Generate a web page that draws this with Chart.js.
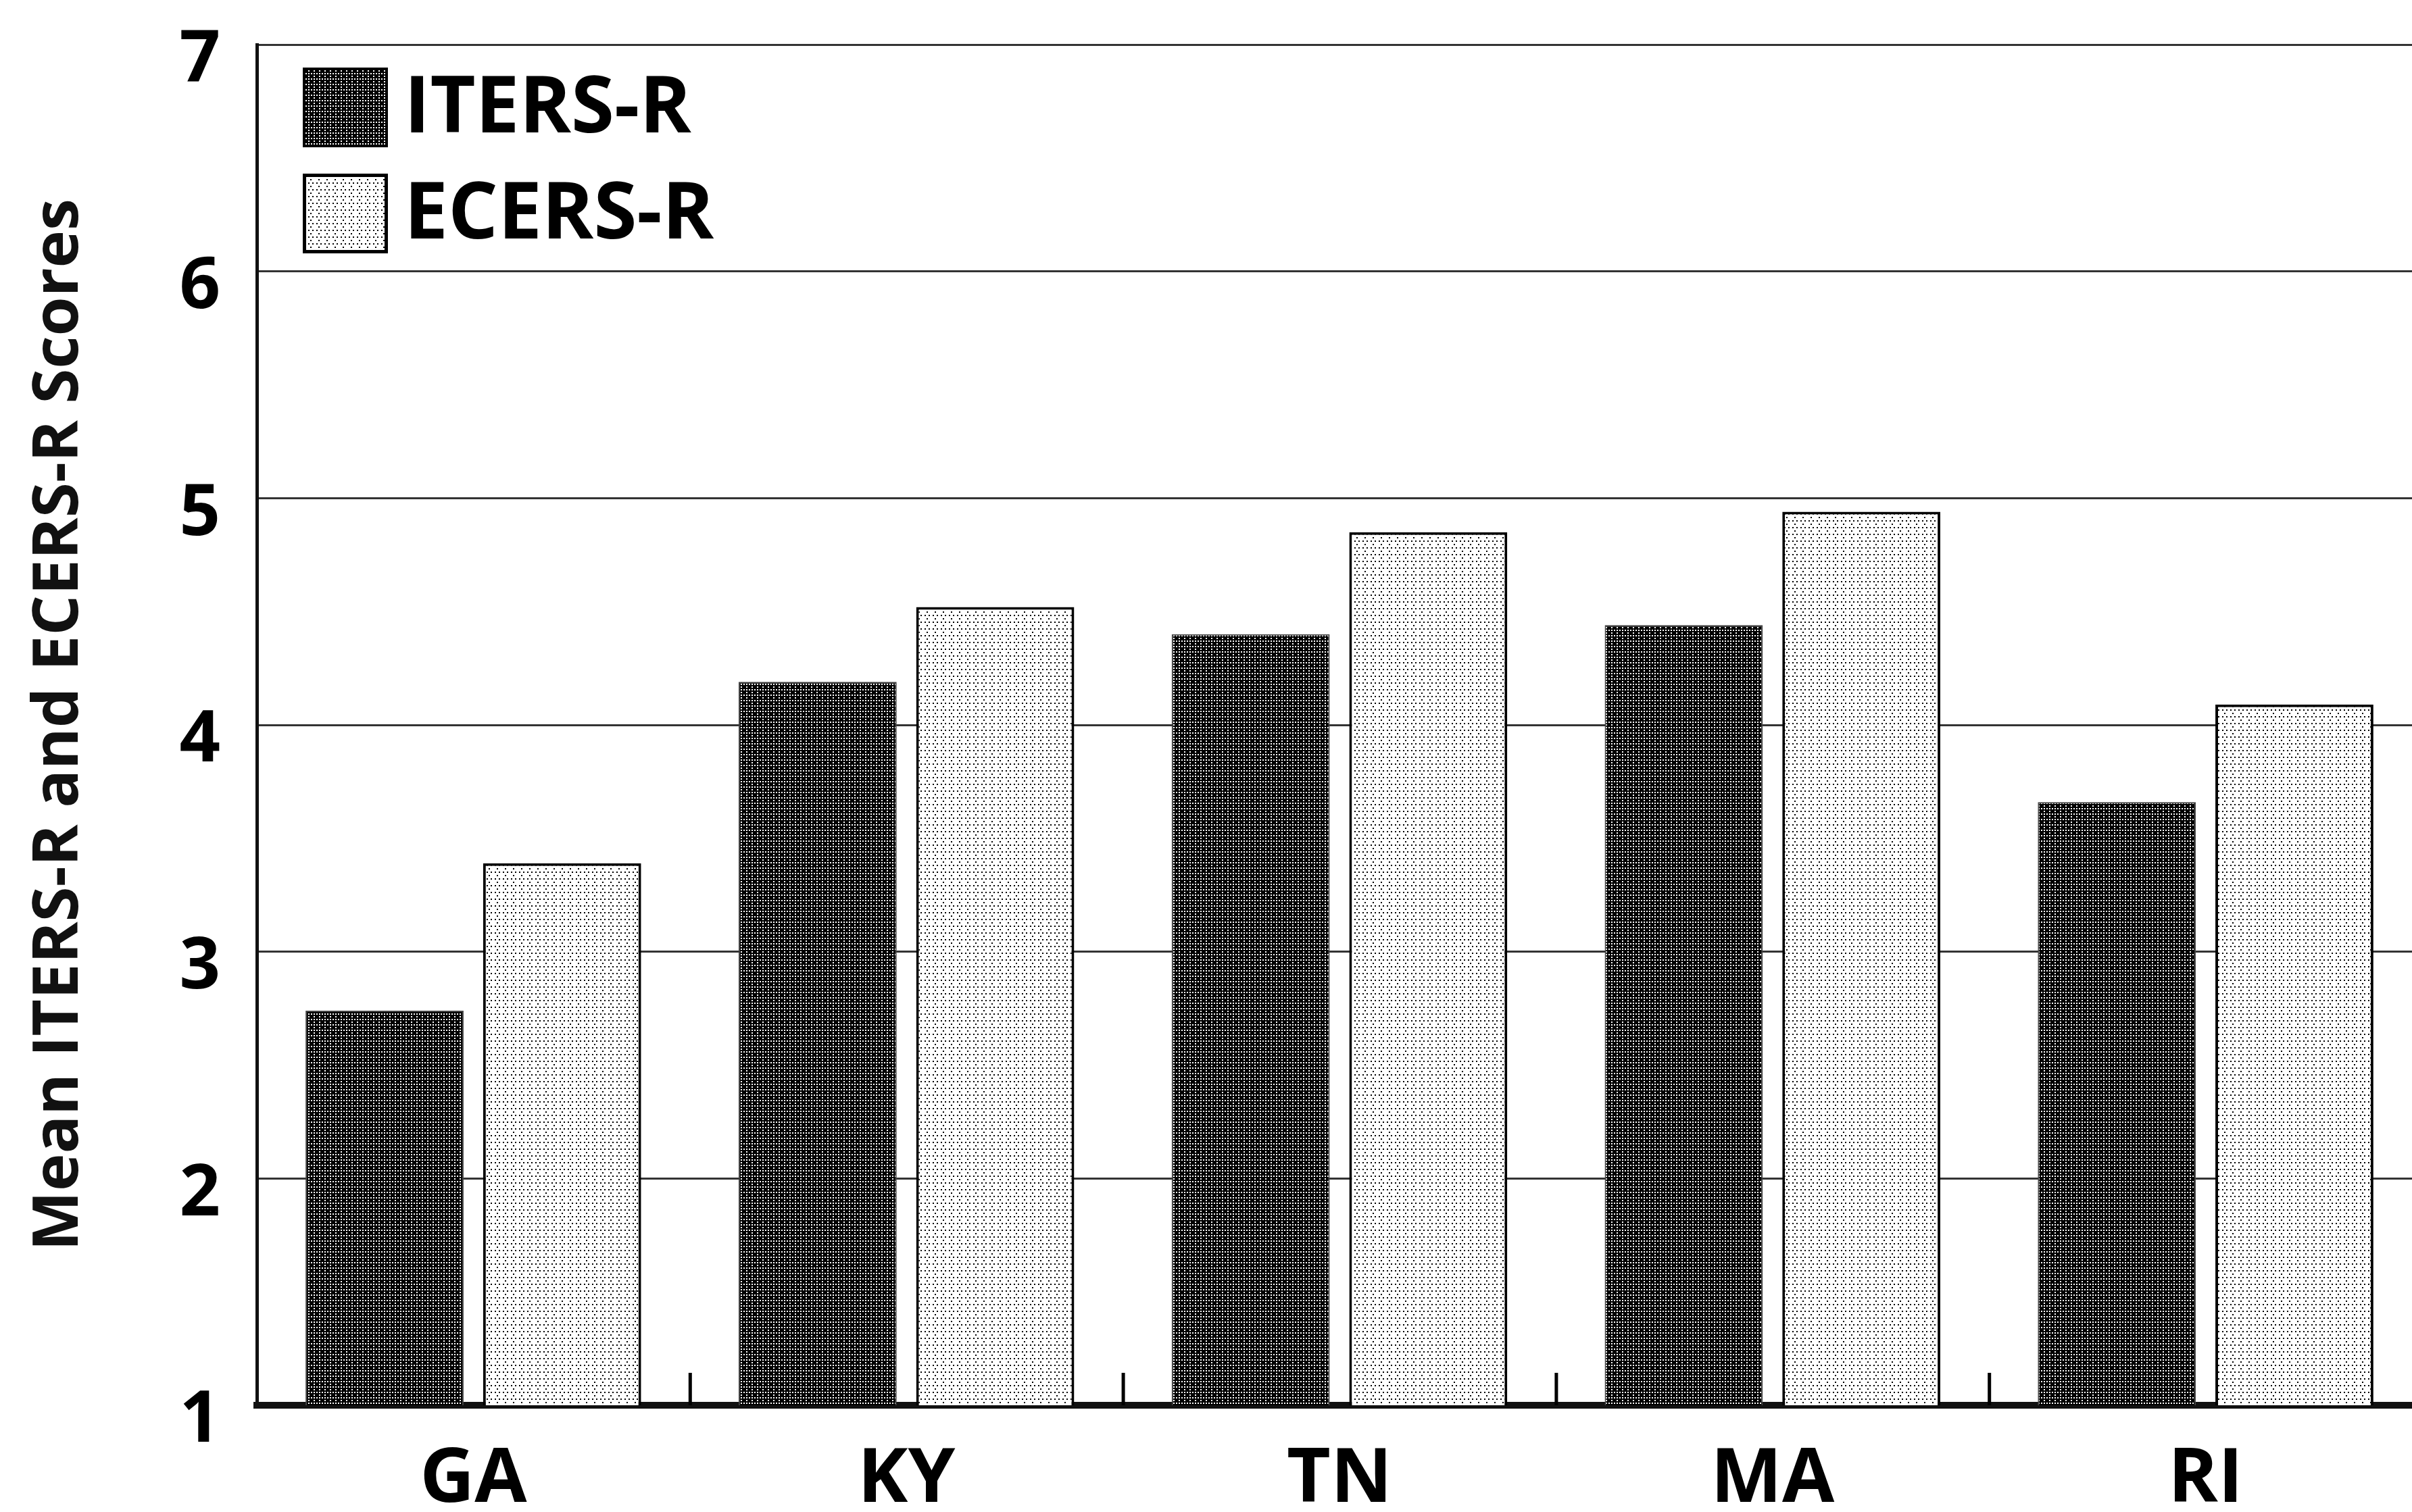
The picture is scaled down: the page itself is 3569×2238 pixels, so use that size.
<!DOCTYPE html>
<html>
<head>
<meta charset="utf-8">
<script src="https://cdn.jsdelivr.net/npm/chart.js@4/dist/chart.umd.min.js"></script>
<style>
html,body{margin:0;padding:0;background:#fff;overflow:hidden;}
#wrap{width:3569px;height:2238px;overflow:hidden;position:relative;}
</style>
</head>
<body>
<div id="wrap"><canvas id="c" width="3584" height="2238"></canvas></div>
<script>
const categories = ["GA", "KY", "TN", "MA", "RI"];
const itersR = [2.74, 4.19, 4.40, 4.44, 3.66];
const ecersR = [3.39, 4.52, 4.85, 4.94, 4.09];
const seriesNames = ["ITERS-R", "ECERS-R"];
const yTicks = [1, 2, 3, 4, 5, 6, 7];
const yTitle = "Mean ITERS-R and ECERS-R Scores";

function makePattern(w, h, bg, fg, dots, size) {
  const c = document.createElement('canvas');
  c.width = w; c.height = h;
  const x = c.getContext('2d');
  x.fillStyle = bg; x.fillRect(0, 0, w, h);
  x.fillStyle = fg;
  dots.forEach(d => x.fillRect(d[0], d[1], size, size));
  return document.getElementById('c').getContext('2d').createPattern(c, 'repeat');
}
const darkFill = makePattern(8, 8, '#000', '#fff', [[0,0],[4,4],[0,4]], 2);
const lightFill = makePattern(12, 10, '#fff', '#000', [[0,0],[6,0],[3,5]], 2);

const FONT = "'Open Sans', 'DejaVu Sans', sans-serif";

const catTicks = {
  id: 'catTicks',
  afterDatasetsDraw(chart) {
    const xs = chart.scales.x, ys = chart.scales.y, ctx = chart.ctx;
    const base = ys.getPixelForValue(yTicks[0]);
    ctx.save();
    ctx.fillStyle = '#000';
    for (let i = 1; i < categories.length; i++) {
      const px = (xs.getPixelForValue(i - 1) + xs.getPixelForValue(i)) / 2;
      ctx.fillRect(px - 2, base - 48, 5, 48);
    }
    ctx.restore();
  }
};

const boxLegend = {
  id: 'boxLegend',
  afterDatasetsDraw(chart) {
    const ctx = chart.ctx, area = chart.chartArea;
    const bx = area.left + 68, by = area.top + 34, bw = 126, bh = 118, pitch = 157;
    ctx.save();
    chart.data.datasets.forEach((ds, i) => {
      const top = by + i * pitch;
      ctx.fillStyle = ds.backgroundColor;
      ctx.fillRect(bx, top, bw, bh);
      ctx.lineWidth = i === 0 ? 3 : 5;
      ctx.strokeStyle = '#000';
      ctx.strokeRect(bx + ctx.lineWidth / 2, top + ctx.lineWidth / 2, bw - ctx.lineWidth, bh - ctx.lineWidth);
      ctx.fillStyle = '#000';
      ctx.font = "bold 116px " + FONT;
      ctx.textAlign = 'left';
      ctx.textBaseline = 'middle';
      ctx.fillText(ds.label, bx + bw + 24, top + bh / 2 + 4);
    });
    ctx.restore();
  }
};

new Chart(document.getElementById('c'), {
  type: 'bar',
  data: {
    labels: categories,
    datasets: [
      { label: seriesNames[0], data: itersR, backgroundColor: darkFill, borderColor: '#444', borderWidth: 2,
        categoryPercentage: 0.82, barPercentage: 0.89 },
      { label: seriesNames[1], data: ecersR, backgroundColor: lightFill, borderColor: '#000', borderWidth: 4,
        categoryPercentage: 0.82, barPercentage: 0.89 }
    ]
  },
  options: {
    responsive: false,
    animation: false,
    devicePixelRatio: 1,
    layout: { padding: { top: 66, right: 0, bottom: 0, left: 0 } },
    plugins: {
      tooltip: { enabled: false },
      legend: { display: false }
    },
    scales: {
      x: {
        grid: { display: false },
        border: { display: true, color: '#111', width: 10 },
        ticks: { color: '#000', padding: 36, font: { family: FONT, size: 112, weight: 'bold' } },
        afterFit(s) { s.height = 158; s.paddingLeft = 0; s.paddingRight = 0; }
      },
      y: {
        min: 1, max: 7,
        afterBuildTicks(s) { s.ticks = yTicks.map(v => ({ value: v })); },
        grid: { color: '#333', lineWidth: 3, drawTicks: false },
        border: { display: true, color: '#111', width: 5 },
        ticks: { color: '#000', padding: 54, labelOffset: 24, font: { family: FONT, size: 106, weight: 'bold' } },
        title: { display: true, text: yTitle, color: '#111', padding: { top: 32 }, font: { family: FONT, size: 94, weight: 'bold' } },
        afterFit(s) { s.width = 380; s.paddingTop = 0; s.paddingBottom = 0; }
      }
    }
  },
  plugins: [catTicks, boxLegend]
});
</script>
</body>
</html>
